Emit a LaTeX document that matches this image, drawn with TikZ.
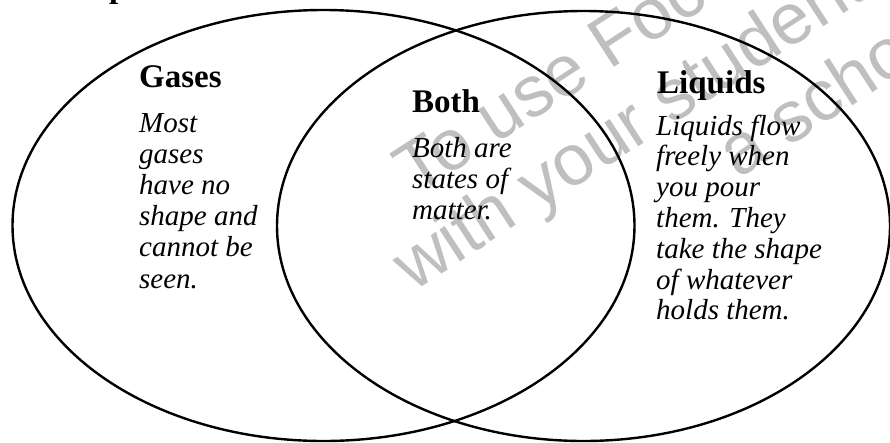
\documentclass[tikz,border=0pt]{standalone}
\usepackage{fontspec}
\setmainfont{Liberation Serif}
\newfontfamily\wmfont{Liberation Sans}
\usetikzlibrary{shapes.geometric}
\begin{document}
\begin{tikzpicture}[x=1pt,y=-1pt,
  circ/.style={draw, ellipse, line width=2.4pt, inner sep=0pt},
  head/.style={anchor=base west, inner sep=0pt, font=\fontsize{33}{36}\selectfont\bfseries},
  body/.style={anchor=base west, inner sep=0pt, align=left, font=\fontsize{29}{31.2}\selectfont\itshape},
  wm/.style={anchor=base west, inner sep=0pt, text=black!25, rotate=33, font=\wmfont\fontsize{72}{80}\selectfont}
]
\useasboundingbox (0,0) rectangle (890,442);
\begin{scope}
\clip (0,0) rectangle (890,442);
\node[wm] (wm1) at (415,197) {To use Focus};
\node[wm] (wm2) at (413,293) {with your students};
\node[wm] (wm3) at (738,180) {a school};
\node[head] (ptop) at (109,-3) {p};
\node[circ, minimum width=622pt, minimum height=431pt] (gas) at (323.5,225.5) {};
\node[circ, minimum width=613pt, minimum height=430pt] (liq) at (583.5,226) {};
\end{scope}
\node[head] (hgas) at (139,87) {Gases};
\node[head] (hboth) at (412,112) {Both};
\node[head] (hliq) at (657,93) {Liquids};
\node[body] (tgas) at (139,288) {Most\\gases\\have no\\shape and\\cannot be\\seen.};
\node[body] (tboth) at (412,219.4) {Both are\\states of\\matter.};
\node[body, font=\fontsize{29}{30.8}\selectfont\itshape] (tliq) at (656,319.8) {Liquids flow\\freely when\\you pour\\them. They\\take the shape\\of whatever\\holds them.};
\end{tikzpicture}
\end{document}
